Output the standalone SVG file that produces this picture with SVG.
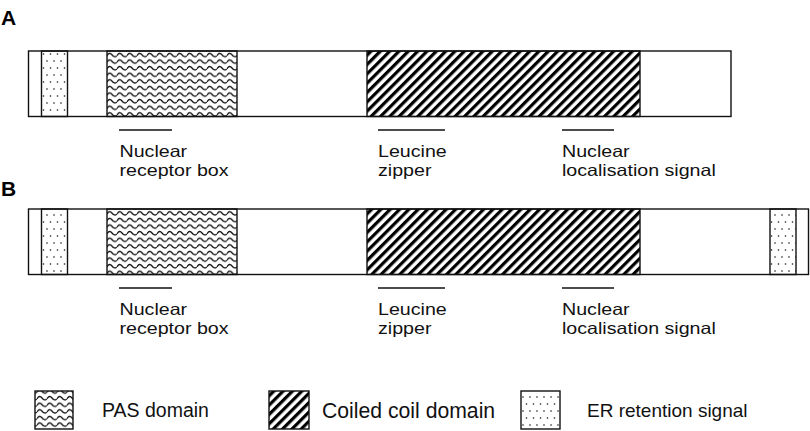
<svg xmlns="http://www.w3.org/2000/svg" width="810" height="431" viewBox="0 0 810 431">
<defs>
<pattern id="wave" patternUnits="userSpaceOnUse" width="10" height="6.6" x="107" y="51">
<path d="M0,4.6 Q2.5,0.6 5,3.8 Q7.5,7 10,4.6" fill="none" stroke="#111" stroke-width="1.3"/>
</pattern>
<pattern id="hatch" patternUnits="userSpaceOnUse" width="6.6" height="10" patternTransform="rotate(45)">
<rect x="0" y="0" width="3.2" height="10" fill="#000"/>
</pattern>
<pattern id="dotsS" patternUnits="userSpaceOnUse" width="7" height="14" x="41" y="51">
<circle cx="2.5" cy="3" r="0.8" fill="#111"/>
<circle cx="6" cy="10" r="0.8" fill="#111"/>
</pattern>
</defs>
<style>
.box{fill:#fff;stroke:#111;stroke-width:1.4}
.seg{stroke:#111;stroke-width:1.4}
.lbl{font-family:"Liberation Sans",Arial,sans-serif;font-size:16.5px;fill:#111}
.leg{font-family:"Liberation Sans",Arial,sans-serif;fill:#111}
.head{font-family:"Liberation Sans",Arial,sans-serif;font-size:21px;font-weight:bold;fill:#000}
.bar{stroke:#111;stroke-width:1.3}
</style>
<rect width="810" height="431" fill="#fff"/>

<g id="panelA">
<text class="head" x="1" y="24.5">A</text>
<g id="proteinA">
<rect class="box" x="28.5" y="51" width="702.5" height="65.5"/>
<rect x="41.5" y="51" width="26" height="65.5" fill="url(#dotsS)" class="seg"/>
<rect x="107" y="51" width="130" height="65.5" fill="url(#wave)" class="seg"/>
<rect x="367" y="51" width="273" height="65.5" fill="url(#hatch)" class="seg"/>
</g>
<g id="labelsA">
<line class="bar" x1="119" y1="130" x2="172" y2="130"/>
<text class="lbl" transform="translate(119.5,156.5) scale(1.19,1)">Nuclear</text>
<text class="lbl" transform="translate(119.5,175.5) scale(1.19,1)">receptor box</text>
<line class="bar" x1="378" y1="130" x2="445" y2="130"/>
<text class="lbl" transform="translate(378,156.5) scale(1.19,1)">Leucine</text>
<text class="lbl" transform="translate(378,175.5) scale(1.19,1)">zipper</text>
<line class="bar" x1="562" y1="130" x2="614" y2="130"/>
<text class="lbl" transform="translate(562,156.5) scale(1.19,1)">Nuclear</text>
<text class="lbl" transform="translate(562,175.5) scale(1.19,1)">localisation signal</text>
</g>
</g>

<g id="panelB">
<text class="head" x="1" y="195.5">B</text>
<g id="proteinB">
<rect class="box" x="28.5" y="209" width="780" height="65.5"/>
<rect x="41.5" y="209" width="26" height="65.5" fill="url(#dotsS)" class="seg"/>
<rect x="107" y="209" width="130" height="65.5" fill="url(#wave)" class="seg"/>
<rect x="367" y="209" width="273" height="65.5" fill="url(#hatch)" class="seg"/>
<rect x="770" y="209" width="26" height="65.5" fill="url(#dotsS)" class="seg"/>
</g>
<g id="labelsB">
<line class="bar" x1="119" y1="288" x2="172" y2="288"/>
<text class="lbl" transform="translate(119.5,314.5) scale(1.19,1)">Nuclear</text>
<text class="lbl" transform="translate(119.5,333.5) scale(1.19,1)">receptor box</text>
<line class="bar" x1="378" y1="288" x2="445" y2="288"/>
<text class="lbl" transform="translate(378,314.5) scale(1.19,1)">Leucine</text>
<text class="lbl" transform="translate(378,333.5) scale(1.19,1)">zipper</text>
<line class="bar" x1="562" y1="288" x2="614" y2="288"/>
<text class="lbl" transform="translate(562,314.5) scale(1.19,1)">Nuclear</text>
<text class="lbl" transform="translate(562,333.5) scale(1.19,1)">localisation signal</text>
</g>
</g>

<g id="legend">
<g id="legendPAS">
<rect x="35" y="391" width="38" height="38" fill="url(#wave)" class="seg"/>
<text class="leg" x="102" y="417" font-size="19.5">PAS domain</text>
</g>
<g id="legendCoil">
<rect x="269" y="391" width="40" height="38" fill="url(#hatch)" class="seg"/>
<text class="leg" x="322" y="418" font-size="21.2">Coiled coil domain</text>
</g>
<g id="legendER">
<rect x="521" y="391" width="39" height="38" fill="url(#dotsS)" class="seg"/>
<text class="leg" x="587" y="417" font-size="19">ER retention signal</text>
</g>
</g>
</svg>
